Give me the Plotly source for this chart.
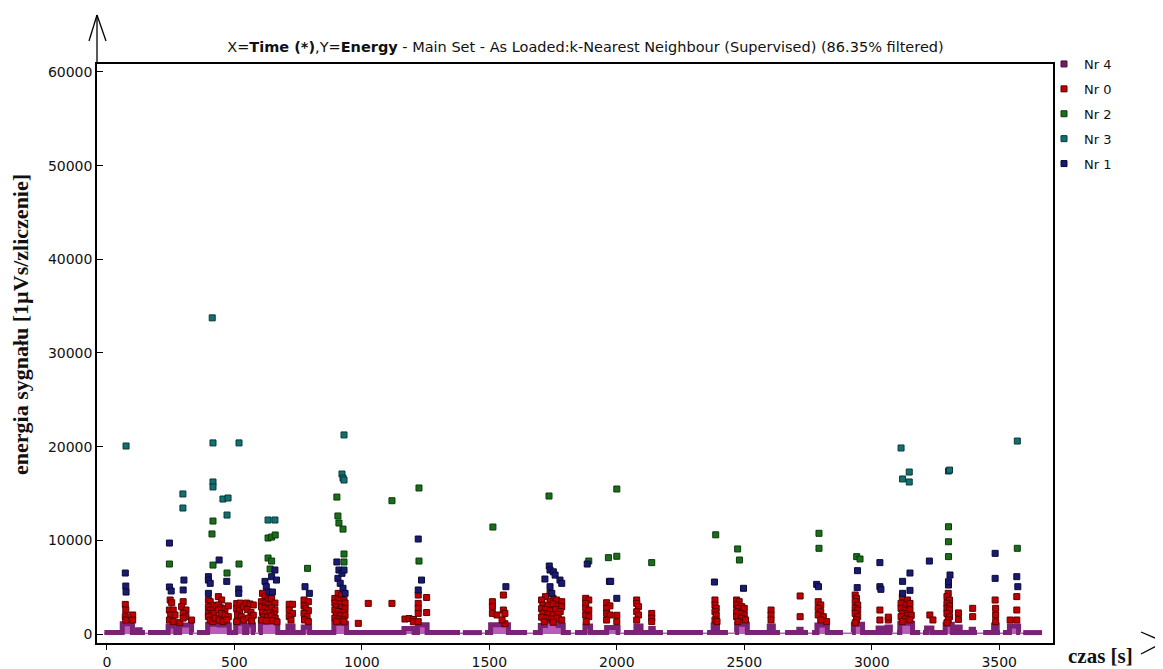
import plotly.graph_objects as go

# ---------------- data ----------------
x_ticks = [0, 500, 1000, 1500, 2000, 2500, 3000, 3500]
y_ticks = [0, 10000, 20000, 30000, 40000, 50000, 60000]
y_tick_labels = ["0", "10000", "20000", "30000", "40000", "50000", "60000"]

# Nr 4 : low-energy base band (step profile, None = gap between recordings)
nr4_t = [-10, 60, 100, 120, 130, 149, None,
         161, 240, 270, 285, 332, 337, None,
         353, 395, 440, 480, 505, 540, 548, 575, 581, None,
         596, 602, 670, 710, 730, 770, 795, 890, 940, 1165, 1205, 1218, 1256, 1385, None,
         1396, 1471, None,
         1483, 1505, 1575, 1648, None,
         1671, 1700, 1720, 1770, 1790, 1820, None,
         1836, 1875, 1897, 1960, 2005, 2013, None,
         2028, 2075, 2095, 2133, 2143, 2181, None,
         2197, 2338, None,
         2354, 2378, 2395, 2436, None,
         2464, 2470, 2512, 2598, 2614, 2640, None,
         2660, 2714, 2723, 2750, None,
         2766, 2785, 2826, 2887, None,
         2923, 2928, 2964, 3025, 3042, 3060, 3073, 3080, None,
         3099, 3110, 3160, 3190, None,
         3201, 3215, 3236, 3288, 3316, 3334, 3347, 3390, 3399, 3413, None,
         3437, 3478, 3492, 3503, None,
         3515, 3540, 3576, 3582, None,
         3594, 3668]
nr4_e = [150, 1100, 150, 450, 150, 150, None,
         150, 850, 150, 950, 150, 150, None,
         150, 1050, 950, 150, 1150, 150, 950, 150, 150, None,
         150, 1250, 150, 850, 150, 750, 150, 1150, 150, 600, 150, 1000, 150, 150, None,
         150, 150, None,
         150, 1000, 150, 150, None,
         150, 900, 1350, 900, 150, 150, None,
         150, 850, 150, 700, 150, 150, None,
         150, 850, 150, 600, 150, 150, None,
         150, 150, None,
         150, 950, 150, 150, None,
         150, 1050, 150, 850, 150, 150, None,
         150, 500, 150, 150, None,
         150, 950, 150, 150, None,
         150, 1050, 150, 650, 150, 750, 150, 150, None,
         150, 1150, 150, 150, None,
         150, 650, 150, 1050, 150, 750, 150, 500, 150, 150, None,
         150, 950, 150, 150, None,
         150, 850, 150, 150, None,
         150, 150]

# Nr 0 : red cluster
nr0_t = [72, 74, 72, 74, 101, 101,
         248, 254, 245, 260, 250, 267, 245, 260,
         299, 293, 310, 299, 310, 332, 286, 299,
         398, 405, 410, 398, 405, 415, 398, 410, 420, 398, 405, 415, 424, 430,
         437, 450, 437, 445, 463, 476, 437, 450, 463, 476, 440, 455, 470,
         509, 522, 509, 520, 535, 512, 527, 535, 509,
         548, 561, 574, 550, 565, 574, 555, 568,
         610, 620, 633, 646, 606, 620, 633, 659, 606, 620, 633, 646, 659, 610, 625, 640,
         655, 615, 630, 645, 660, 606, 625, 650, 667,
         715, 728, 715, 728, 715, 722,
         773, 790, 773, 780, 790, 773, 785, 775, 790,
         907, 920, 894, 907, 930, 894, 915, 934, 900, 920, 934, 894, 907, 925, 900, 915,
         934, 894, 910, 925, 900, 930,
         986, 1025, 1118, 1169, 1185, 1202, 1202,
         1221, 1254, 1221, 1221, 1221, 1254, 1221,
         1512, 1512, 1512, 1530, 1555, 1561, 1561, 1550, 1555,
         1738, 1720, 1750, 1705, 1738, 1764, 1784, 1710, 1730, 1750, 1770, 1784, 1705, 1720,
         1740, 1760, 1778, 1710, 1730, 1750, 1770, 1705, 1725, 1745, 1765, 1784, 1715, 1750,
         1878, 1890, 1878, 1878, 1890, 1878, 1890, 1880,
         1960, 1973, 1960, 1960, 1973, 1960, 2000, 2000,
         2078, 2078, 2085, 2078, 2085, 2078, 2137, 2137, 2137,
         2385, 2385, 2390, 2385, 2390, 2385, 2393,
         2470, 2480, 2470, 2490, 2475, 2500, 2470, 2485, 2500, 2470, 2490, 2505, 2475,
         2605, 2605, 2605, 2719, 2719,
         2790, 2800, 2790, 2800, 2790, 2810, 2800, 2823,
         2935, 2940, 2935, 2945, 2935, 2945, 2935, 2945, 2940, 2935,
         3032, 3032, 3065, 3065,
         3120, 3140, 3115, 3135, 3150, 3115, 3130, 3150, 3120, 3140, 3155, 3115, 3130, 3150, 3120,
         3228, 3240,
         3300, 3295, 3305, 3295, 3305, 3295, 3305, 3295, 3305, 3300, 3295,
         3340, 3340, 3396, 3396,
         3484, 3486, 3486, 3486,
         3569, 3569, 3569, 3543]
nr0_e = [3160, 2560, 1850, 1490, 2030, 1490,
         3630, 3340, 2560, 2560, 2030, 2030, 1490, 1320,
         3450, 2920, 2560, 2200, 1850, 1490, 1210, 1700,
         3630, 3450, 3100, 2900, 2560, 2560, 2200, 2030, 2200, 1850, 1490, 1320, 1700, 3000,
         3990, 3630, 3100, 2800, 2700, 3000, 2560, 2200, 2030, 1850, 1490, 1320, 1500,
         3250, 3300, 2700, 2500, 2900, 2030, 1850, 1490, 1320,
         3300, 3200, 3100, 2600, 2300, 2000, 1700, 1400,
         4340, 3990, 3630, 3800, 3450, 3300, 3100, 3300, 2900, 2750, 2600, 2800, 2550, 2300, 2200, 2250,
         2100, 1850, 1800, 1900, 1700, 1500, 1400, 1450, 1300,
         3170, 3170, 2560, 2200, 1850, 1490,
         3630, 3450, 3000, 2700, 2500, 2200, 1850, 1500, 1320,
         4340, 4160, 3800, 3630, 3600, 3300, 3200, 3300, 2900, 2800, 2700, 2560, 2400, 2300, 2030, 1950,
         2000, 1700, 1600, 1500, 1320, 1300,
         1140, 3270, 3270, 1600, 1650, 1550, 1300,
         4160, 3900, 3270, 2740, 2200, 2290, 1320,
         3450, 2920, 2200, 2030, 2560, 2200, 1100, 1500, 4160,
         4340, 3990, 3800, 3630, 3450, 3630, 3450, 3100, 3000, 3200, 3000, 2900, 2700, 2600,
         2500, 2600, 2400, 2200, 2100, 2050, 2100, 1800, 1700, 1600, 1700, 1500, 1300, 1250,
         3810, 3630, 3270, 2740, 2560, 2030, 1850, 1320,
         3340, 3000, 2740, 2200, 2030, 1490, 2000, 1320,
         3630, 3270, 2920, 2380, 2030, 1490, 2200, 1700, 1320,
         3630, 3100, 2740, 2380, 2030, 1500, 1320,
         3630, 3450, 3100, 2920, 2740, 2740, 2380, 2200, 2030, 1850, 1700, 1500, 1320,
         2560, 2030, 1500, 4060, 1850,
         3450, 3100, 2740, 2380, 2030, 1850, 1500, 1320,
         4160, 3810, 3450, 3100, 2740, 2560, 2200, 1850, 1500, 1200,
         2560, 1494, 1494, 1800,
         3990, 3630, 3270, 3100, 3270, 2740, 2560, 2600, 2200, 2030, 2000, 1850, 1600, 1500, 1320,
         2030, 1500,
         4340, 3990, 3630, 3270, 3000, 2740, 2560, 2200, 1850, 1500, 1200,
         2250, 1560, 2740, 1850,
         3630, 2740, 2030, 1320,
         3990, 2560, 1494, 1494]

# Nr 1 : navy cluster
nr1_t = [72, 74, 75, 245, 245, 252, 302, 299,
         398, 398, 405, 398, 440, 470, 517, 517,
         620, 646, 659, 665, 625, 634, 649,
         777, 794,
         902, 906, 910, 915, 922, 926, 930, 934,
         1221, 1234, 1221,
         1565,
         1735, 1738, 1751, 1758, 1777, 1784, 1718, 1738, 1745,
         1884, 1971, 1976, 2000,
         2383, 2497, 2784, 2791,
         2944, 2943, 3032, 3032, 3036,
         3121, 3121, 3150, 3150, 3226,
         3301, 3307, 3301, 3484, 3484, 3569, 3573]
nr1_e = [6510, 5120, 4480, 9710, 5020, 4590, 5760, 4700,
         6120, 5760, 5410, 4340, 7900, 5620, 4800, 4340,
         5620, 6120, 6830, 5760, 5050, 4480, 4480,
         5050, 4340,
         7690, 5940, 6830, 5410, 6480, 4880, 6830, 4340,
         10140, 5760, 4700,
         5050,
         7260, 6830, 6640, 6290, 5760, 5410, 5870, 5050, 4340,
         7470, 5620, 5620, 3810,
         5550, 4880, 5300, 5050,
         6760, 4950, 7620, 5050, 4770,
         5620, 4340, 6510, 4660, 7790,
         5230, 6300, 5580, 8610, 5940, 6120, 5050]

# Nr 2 : green cluster
nr2_t = [245, 416, 412, 416, 471, 518, 632, 646, 660, 632, 646, 640, 787,
         902, 906, 910, 926, 930, 930, 1118, 1224, 1224,
         1514, 1734, 1890, 1967, 2000, 2000, 2137, 2388, 2474, 2481, 2793, 2793,
         2941, 2954, 3301, 3301, 3301, 3571]
nr2_e = [7470, 12060, 10680, 7360, 6510, 7470, 10250, 10350, 10570, 8110, 7790, 6940, 7010,
         14620, 12600, 11850, 11200, 8540, 7690, 14230, 15590, 7790,
         11420, 14730, 7790, 8150, 15480, 8300, 7620, 10590, 9080, 7900, 10750, 9150,
         8260, 8010, 11450, 9850, 8260, 9150]

# Nr 3 : teal cluster
nr3_t = [75, 413, 416, 518, 930, 416, 416, 922, 926, 930, 298, 298, 455, 475, 471, 632, 659,
         3115, 3121, 3147, 3147, 3301, 3305, 3571]
nr3_e = [20070, 33750, 20400, 20400, 21250, 16230, 15700, 17080, 16650, 16440, 14950, 13450,
         14410, 14520, 12700, 12170, 12170,
         19860, 16550, 17290, 16230, 17400, 17500, 20600]

# ---------------- figure ----------------
OFF = 8                      # page body margin of the browser
W, H = 1163 - OFF, 669 - OFF
L, R, T, B = 97 - OFF, 1053 - OFF, 64 - OFF, 643 - OFF


def px(xp):                  # page pixel -> paper x
    return (xp - OFF - L) / (R - L)


def py(yp):                  # page pixel -> paper y
    return (B - (yp - OFF)) / (B - T)


fig = go.Figure()

# base band (Nr 4)
fig.add_trace(go.Scatter(
    x=nr4_t, y=nr4_e, mode="lines", line=dict(color="#7a2274", width=5, shape="hv"),
    fill="tozeroy", fillcolor="#bb5cbb", connectgaps=False, showlegend=False,
    hoverinfo="skip"))


def mk(fill, edge):
    return dict(symbol="square", size=6, color=fill, line=dict(color=edge, width=1))


fig.add_trace(go.Scatter(x=[None], y=[None], mode="markers", name="Nr 4", legendgroup="g4",
                         marker=mk("#6e2064", "#4a1040"), legendrank=1))
fig.add_trace(go.Scatter(x=nr0_t, y=nr0_e, mode="markers", name="Nr 0", legendgroup="g0",
                         marker=mk("#c00000", "#5a0000"), legendrank=2))
fig.add_trace(go.Scatter(x=nr2_t, y=nr2_e, mode="markers", name="Nr 2", legendgroup="g2",
                         marker=mk("#1a6e1a", "#0a3a0a"), legendrank=3))
fig.add_trace(go.Scatter(x=nr3_t, y=nr3_e, mode="markers", name="Nr 3", legendgroup="g3",
                         marker=mk("#147070", "#083838"), legendrank=4))
fig.add_trace(go.Scatter(x=nr1_t, y=nr1_e, mode="markers", name="Nr 1", legendgroup="g1",
                         marker=mk("#1a1a70", "#0a0a3a"), legendrank=5))

font_sans = "DejaVu Sans, Liberation Sans, Arial, sans-serif"
font_serif = "Liberation Serif, Times New Roman, serif"

fig.update_layout(
    width=W, height=H,
    margin=dict(l=L, r=W - R, t=T, b=H - B, autoexpand=False),
    paper_bgcolor="white", plot_bgcolor="white",
    font=dict(family=font_sans, size=14, color="#111111"),
    title=dict(
        text="X=<b>Time (*)</b>,Y=<b>Energy</b> - Main Set - As Loaded:k-Nearest Neighbour (Supervised) (86.35% filtered)",
        x=px(575), xanchor="center", y=1 - (47 - OFF) / H, yanchor="middle",
        font=dict(family=font_sans, size=14.5, color="#111111")),
    xaxis=dict(range=[-39, 3711], tickvals=x_ticks, ticks="outside", ticklen=5,
               tickcolor="black", showgrid=False, zeroline=False, showline=True,
               linecolor="black", linewidth=1.5, mirror=True,
               tickfont=dict(size=14)),
    yaxis=dict(range=[-960, 60850], tickvals=y_ticks, ticktext=y_tick_labels,
               ticks="inside", ticklen=6,
               tickcolor="black", showgrid=False, zeroline=False, showline=True,
               linecolor="black", linewidth=1.5, mirror=True,
               tickfont=dict(size=14)),
    legend=dict(x=px(1044), xanchor="left", y=py(49), yanchor="top",
                bgcolor="rgba(0,0,0,0)", font=dict(size=13, color="#111111"),
                itemsizing="trace", itemwidth=30, tracegroupgap=5,
                traceorder="grouped"),
    showlegend=True,
)

# axis arrows
arrow = dict(color="black", width=1.3)
shapes = [
    dict(type="line", xref="paper", yref="paper", x0=px(97), y0=py(64), x1=px(97), y1=py(15), line=arrow),
    dict(type="line", xref="paper", yref="paper", x0=px(89), y0=py(41), x1=px(97), y1=py(15), line=arrow),
    dict(type="line", xref="paper", yref="paper", x0=px(106), y0=py(41), x1=px(97), y1=py(15), line=arrow),
    dict(type="line", xref="paper", yref="paper", x0=px(1141), y0=py(632), x1=px(1162), y1=py(641), line=arrow),
    dict(type="line", xref="paper", yref="paper", x0=px(1162), y0=py(643), x1=px(1141), y1=py(654), line=arrow),
]
fig.update_layout(shapes=shapes)

fig.add_annotation(text="<b>energia sygnału [1µVs/zliczenie]</b>", textangle=-90,
                   xref="paper", yref="paper", x=px(20), y=py(325),
                   xanchor="center", yanchor="middle", showarrow=False,
                   font=dict(family=font_serif, size=22, color="#111111"))
fig.add_annotation(text="<b>czas [s]</b>", xref="paper", yref="paper",
                   x=px(1100), y=py(656), xanchor="center", yanchor="middle",
                   showarrow=False, font=dict(family=font_serif, size=21, color="#111111"))

fig.write_html("out.html")
